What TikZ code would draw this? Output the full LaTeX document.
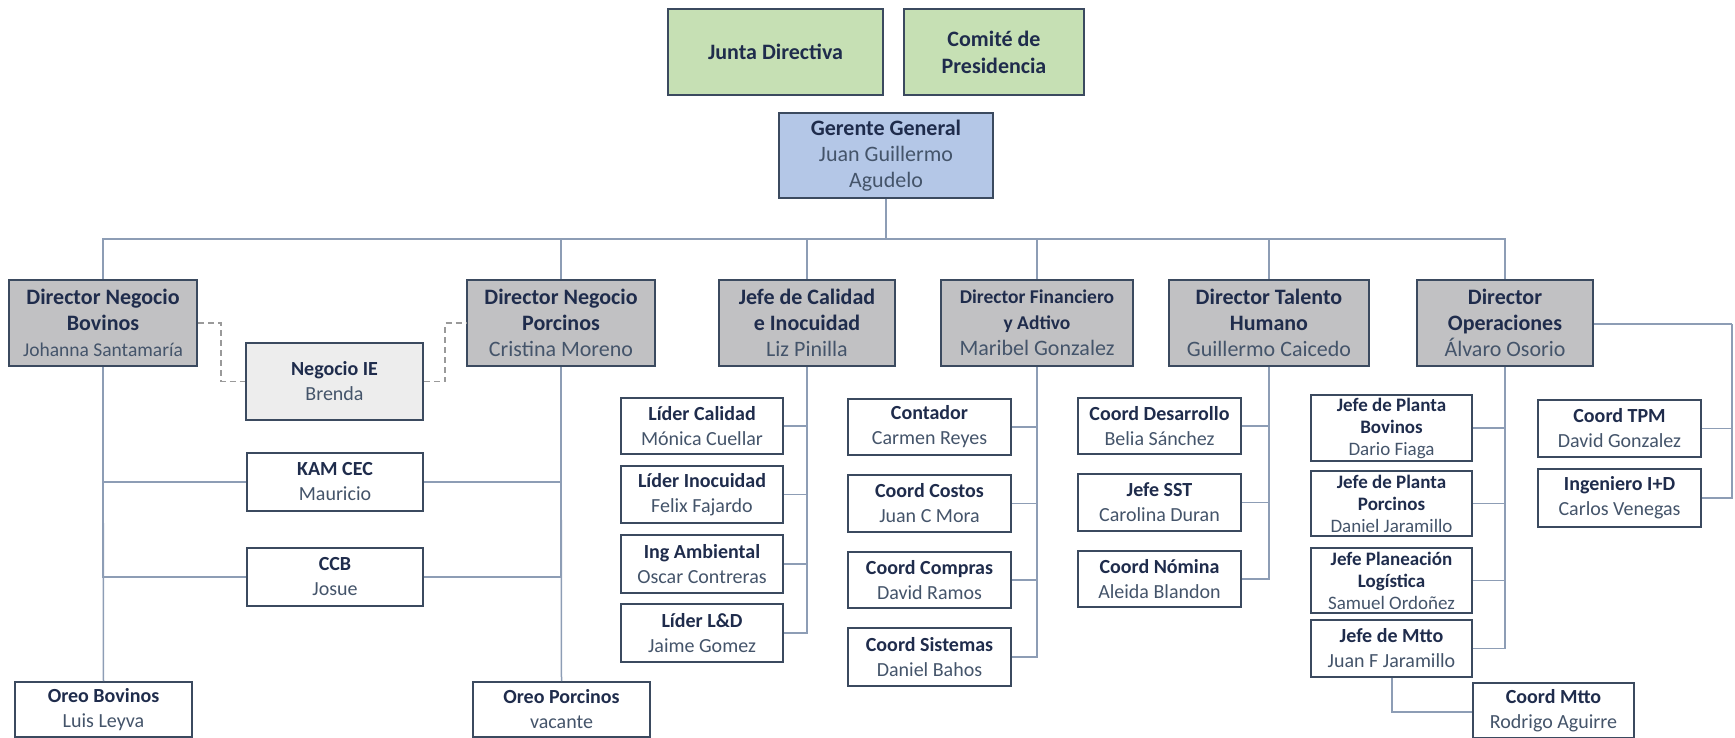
\documentclass[tikz,border=0pt]{standalone}
\usepackage{fontspec}
\setmainfont{Carlito}
\usetikzlibrary{calc}
\definecolor{bordc}{HTML}{3B4A5F}
\definecolor{linec}{HTML}{8D9DB5}
\definecolor{titc}{HTML}{1F2C4C}
\definecolor{nmc}{HTML}{44546A}
\definecolor{greenf}{HTML}{C6E0B4}
\definecolor{bluef}{HTML}{B4C7E7}
\definecolor{greyf}{HTML}{C1C1C3}
\definecolor{lgreyf}{HTML}{EDEDED}
\definecolor{dashc}{HTML}{9A9A9A}
\newcommand{\OTitle}[1]{\textcolor{titc}{\bfseries #1}}
\newcommand{\OName}[1]{\textcolor{nmc}{#1}}
\begin{document}
\begin{tikzpicture}[x=1pt,y=-1pt,
  box/.style={draw=bordc,line width=2pt,align=center,inner sep=0pt,fill=white,font=\fontsize{20}{25}\selectfont},
  topbox/.style={box,fill=greenf,minimum height=86pt,font=\fontsize{22}{27}\selectfont},
  gerbox/.style={box,fill=bluef,font=\fontsize{22}{26}\selectfont},
  dirbox/.style={box,fill=greyf,minimum height=86pt,font=\fontsize{22}{26}\selectfont},
  subbox/.style={box,minimum height=57pt},
  tallbox/.style={box,minimum height=65pt,font=\fontsize{19}{22}\selectfont},
  conn/.style={draw=linec,line width=1.5pt},
  dconn/.style={draw=dashc,line width=1.5pt,dash pattern=on 6pt off 4pt}]
\useasboundingbox (0,0) rectangle (1735,738);
% top
\node[topbox,minimum width=215pt] (junta) at (775.5,52) {\OTitle{Junta Directiva}};
\node[topbox,minimum width=180pt] (comite) at (994,52) {\OTitle{Comité de}\\\OTitle{Presidencia}};
\node[gerbox,minimum width=214pt,minimum height=85pt] (ger) at (886,155.5) {\OTitle{Gerente General}\\\OName{Juan Guillermo}\\\OName{Agudelo}};
% directors
\node[dirbox,minimum width=188pt] (bov) at (103,323) {\OTitle{Director Negocio}\\\OTitle{Bovinos}\\\OName{\fontsize{19.5}{26}\selectfont Johanna Santamaría}};
\node[dirbox,minimum width=188pt] (por) at (561,323) {\OTitle{Director Negocio}\\\OTitle{Porcinos}\\\OName{Cristina Moreno}};
\node[dirbox,minimum width=176pt] (cal) at (807,323) {\OTitle{Jefe de Calidad}\\\OTitle{e Inocuidad}\\\OName{Liz Pinilla}};
\node[dirbox,minimum width=192pt] (fin) at (1037,323) {\OTitle{\fontsize{19.5}{24}\selectfont Director Financiero}\\\OTitle{\fontsize{19.5}{24}\selectfont y Adtivo}\\\OName{Maribel Gonzalez}};
\node[dirbox,minimum width=200pt] (tal) at (1269,323) {\OTitle{Director Talento}\\\OTitle{Humano}\\\OName{Guillermo Caicedo}};
\node[dirbox,minimum width=176pt] (ops) at (1505,323) {\OTitle{Director}\\\OTitle{Operaciones}\\\OName{Álvaro Osorio}};
% Bovinos / Porcinos area
\node[subbox,fill=lgreyf,minimum width=177pt,minimum height=77pt] (ie) at (334.5,381.5) {\OTitle{Negocio IE}\\\OName{Brenda}};
\node[subbox,minimum width=176pt,minimum height=58pt] (kam) at (335,482) {\OTitle{KAM CEC}\\\OName{Mauricio}};
\node[subbox,minimum width=176pt,minimum height=58pt] (ccb) at (335,577) {\OTitle{CCB}\\\OName{Josue}};
\node[subbox,minimum width=177pt,minimum height=55pt] (oreob) at (103.5,709.5) {\OTitle{Oreo Bovinos}\\\OName{Luis Leyva}};
\node[subbox,minimum width=177pt,minimum height=55pt] (oreop) at (561.5,709.5) {\OTitle{Oreo Porcinos}\\\OName{vacante}};
% Calidad
\node[subbox,minimum width=162pt,minimum height=56pt] (lc) at (702,426) {\OTitle{Líder Calidad}\\\OName{Mónica Cuellar}};
\node[subbox,minimum width=162pt] (li) at (702,494.5) {\OTitle{Líder Inocuidad}\\\OName{Felix Fajardo}};
\node[subbox,minimum width=162pt,minimum height=58pt] (ia) at (702,564) {\OTitle{Ing Ambiental}\\\OName{Oscar Contreras}};
\node[subbox,minimum width=162pt,minimum height=58pt] (lld) at (702,633) {\OTitle{Líder L\&D}\\\OName{Jaime Gomez}};
% Financiero
\node[subbox,minimum width=163pt,minimum height=56pt] (cont) at (929.5,427) {\OTitle{Contador}\\\OName{Carmen Reyes}};
\node[subbox,minimum width=163pt] (cost) at (929.5,503.5) {\OTitle{Coord Costos}\\\OName{Juan C Mora}};
\node[subbox,minimum width=163pt,minimum height=56pt] (comp) at (929.5,580) {\OTitle{Coord Compras}\\\OName{David Ramos}};
\node[subbox,minimum width=163pt,minimum height=58pt] (sist) at (929.5,657) {\OTitle{Coord Sistemas}\\\OName{Daniel Bahos}};
% Talento
\node[subbox,minimum width=163pt,minimum height=56pt] (des) at (1159.5,426) {\OTitle{Coord Desarrollo}\\\OName{Belia Sánchez}};
\node[subbox,minimum width=163pt] (sst) at (1159.5,502.5) {\OTitle{Jefe SST}\\\OName{Carolina Duran}};
\node[subbox,minimum width=163pt,minimum height=56pt] (nom) at (1159.5,579) {\OTitle{Coord Nómina}\\\OName{Aleida Blandon}};
% Operaciones
\node[tallbox,minimum width=161pt,minimum height=66pt] (jpb) at (1391.5,428) {\OTitle{Jefe de Planta}\\\OTitle{Bovinos}\\\OName{Dario Fiaga}};
\node[tallbox,minimum width=161pt] (jpp) at (1391.5,503.5) {\OTitle{Jefe de Planta}\\\OTitle{Porcinos}\\\OName{Daniel Jaramillo}};
\node[tallbox,minimum width=161pt] (jpl) at (1391.5,580.5) {\OTitle{Jefe Planeación}\\\OTitle{Logística}\\\OName{Samuel Ordoñez}};
\node[subbox,minimum width=161pt] (jm) at (1391.5,648.5) {\OTitle{Jefe de Mtto}\\\OName{Juan F Jaramillo}};
\node[subbox,minimum width=161pt,minimum height=55pt] (cm) at (1553.5,710.5) {\OTitle{Coord Mtto}\\\OName{Rodrigo Aguirre}};
\node[subbox,minimum width=163pt] (tpm) at (1619.5,428.5) {\OTitle{Coord TPM}\\\OName{David Gonzalez}};
\node[subbox,minimum width=163pt,minimum height=58pt] (ing) at (1619.5,498) {\OTitle{Ingeniero I+D}\\\OName{Carlos Venegas}};
% connectors
\coordinate (bus) at (886,239);
\coordinate (rgt) at (1732,324);
\coordinate (mtc) at (1392,712);
\draw[conn] (ger.south) -- (bus);
\foreach \d in {bov,por,cal,fin,tal,ops} {\draw[conn] (bus) -| (\d.north);}
\draw[dconn] (bov.east) -| ($(ie.west)+(-24,0)$) -- (ie.west);
\draw[dconn] (ie.east) -| ($(por.west)+(-21,0)$) -- (por.west);
\draw[conn] (bov.south) -- (oreob.north);
\draw[conn] (por.south) -- (oreop.north);
\foreach \c in {kam,ccb} {\draw[conn] (bov.south) |- (\c.west); \draw[conn] (por.south) |- (\c.east);}
\foreach \c in {lc,li,ia,lld} {\draw[conn] (cal.south) |- (\c.east);}
\foreach \c in {cont,cost,comp,sist} {\draw[conn] (fin.south) |- (\c.east);}
\foreach \c in {des,sst,nom} {\draw[conn] (tal.south) |- (\c.east);}
\foreach \c in {jpb,jpp,jpl,jm} {\draw[conn] (ops.south) |- (\c.east);}
\draw[conn] (ops.east |- rgt) -- (rgt);
\foreach \c in {tpm,ing} {\draw[conn] (rgt) |- (\c.east);}
\draw[conn] (jm.south -| mtc) -- (mtc) -- (cm.west |- mtc);
\end{tikzpicture}
\end{document}
